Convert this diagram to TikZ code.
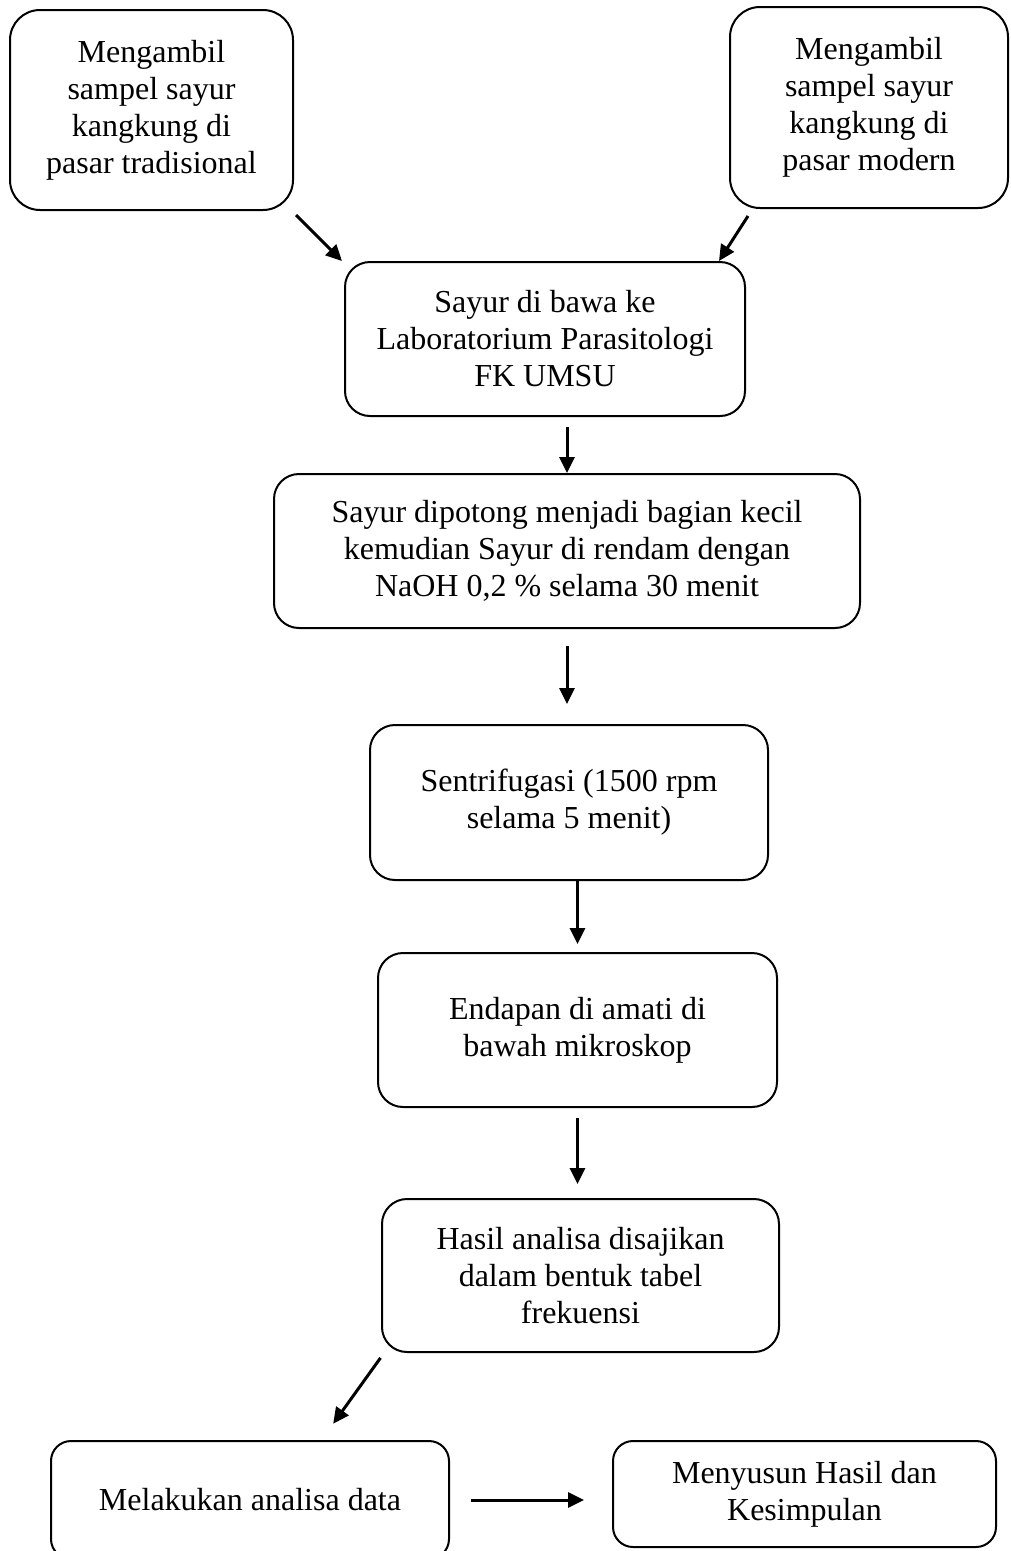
\documentclass[tikz,border=0pt]{standalone}
\usepackage{fontspec}
\setmainfont{Liberation Serif}
\usetikzlibrary{arrows.meta}

\begin{document}
\begin{tikzpicture}[x=1pt, y=-1pt,
        langkah/.style={draw, line width=2pt, rounded corners=25pt, align=center, inner sep=0pt, font=\fontsize{32}{37}\selectfont},
        panah/.style={line width=3pt, -{Triangle[length=16pt, width=15pt]}}]
        \useasboundingbox (0,0) rectangle (1010,1551);

        \node[langkah, rounded corners=30pt, minimum width=283pt, minimum height=200pt] (tradisional) at (151.5,110) {Mengambil\\ sampel sayur\\ kangkung di\\ pasar tradisional};
        \node[langkah, rounded corners=30pt, minimum width=278pt, minimum height=201pt] (modern) at (869,107.5) {Mengambil\\ sampel sayur\\ kangkung di\\ pasar modern};

        \node[langkah, minimum width=400pt, minimum height=154pt] (lab) at (545,339) {Sayur di bawa ke\\ Laboratorium Parasitologi\\ FK UMSU};
        \node[langkah, minimum width=586pt, minimum height=154pt] (potong) at (567,551) {Sayur dipotong menjadi bagian kecil\\ kemudian Sayur di rendam dengan\\ NaOH 0,2 \% selama 30 menit};
        \node[langkah, minimum width=398pt, minimum height=155pt] (sentri) at (569,802.5) {Sentrifugasi (1500 rpm\\ selama 5 menit)};
        \node[langkah, minimum width=399pt, minimum height=154pt] (amati) at (577.5,1030) {Endapan di amati di\\ bawah mikroskop};
        \node[langkah, minimum width=397pt, minimum height=153pt] (tabel) at (580.5,1275.5) {Hasil analisa disajikan\\ dalam bentuk tabel\\ frekuensi};

        \node[langkah, rounded corners=20pt, minimum width=398pt, minimum height=118pt] (analisa) at (250,1500) {Melakukan analisa data};
        \node[langkah, rounded corners=20pt, minimum width=383pt, minimum height=106pt] (ringkas) at (804.5,1494) {Menyusun Hasil dan\\ Kesimpulan};

        \draw[panah] ([xshift=2pt, yshift=-4pt]tradisional.south east) -- ([xshift=-2pt]lab.north west);
        \draw[panah] ([xshift=19pt, yshift=-7pt]modern.south west) -- ([xshift=-27pt]lab.north east);
        \draw[panah, shorten <=10pt] (lab.south -| potong.north) -- (potong.north);
        \draw[panah, shorten <=17pt, shorten >=20pt] (potong.south) -- (potong.south |- sentri.north);
        \draw[panah, shorten >=8pt] (sentri.south -| amati.north) -- (amati.north);
        \draw[panah, shorten <=10pt, shorten >=14pt] (amati.south) -- (amati.south |- tabel.north);
        \draw[panah, shorten <=6pt, shorten >=20pt] ([xshift=3pt]tabel.south west) -- ([xshift=71.5pt]analisa.north);
        \draw[panah, shorten <=21pt, shorten >=28pt] (analisa.east) -- (analisa.east -| ringkas.west);

    \end{tikzpicture}
\end{document}
